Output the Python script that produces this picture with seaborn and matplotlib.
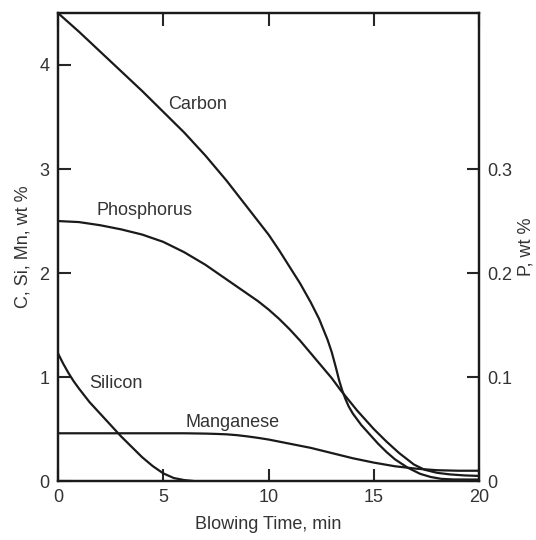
import numpy as np
import pandas as pd
import matplotlib
matplotlib.use("Agg")
import matplotlib.pyplot as plt
import seaborn as sns

# --- values ---
carbon_t = [0, 1, 2, 3, 4, 5, 6, 7, 8, 9, 10, 10.5, 11, 11.5, 12, 12.4, 12.8,
            13.0, 13.2, 13.35, 13.5, 13.65, 13.8, 14.0, 14.4, 14.8, 15.2, 15.6,
            16.0, 16.6, 17.2, 17.7, 18.2, 18.8, 20]
carbon = [4.50, 4.32, 4.13, 3.94, 3.75, 3.55, 3.35, 3.13, 2.89, 2.63, 2.37, 2.22,
          2.06, 1.90, 1.72, 1.56, 1.36, 1.24, 1.09, 0.97, 0.87, 0.79, 0.72, 0.65,
          0.54, 0.45, 0.36, 0.28, 0.21, 0.13, 0.07, 0.04, 0.022, 0.016, 0.015]

phos_t = [0, 1, 2, 3, 4, 5, 6, 7, 8, 9, 9.5, 10, 10.5, 11, 11.5, 12, 12.5, 13,
          13.4, 13.8, 14.2, 14.6, 15.0, 15.6, 16.2, 16.9, 17.4, 18.0, 18.6,
          19.3, 20]
phosphorus = [0.250, 0.249, 0.246, 0.242, 0.237, 0.230, 0.220, 0.208, 0.194,
              0.180, 0.173, 0.165, 0.156, 0.146, 0.135, 0.123, 0.111, 0.099,
              0.088, 0.078, 0.068, 0.059, 0.050, 0.038, 0.027, 0.016, 0.011,
              0.008, 0.0065, 0.0055, 0.005]

mn_t = [0, 2, 4, 6, 7, 7.5, 8, 8.5, 9, 9.5, 10, 10.5, 11, 11.5, 12, 13, 14, 15,
        16, 17, 18, 19, 20]
manganese = [0.46, 0.46, 0.46, 0.46, 0.457, 0.454, 0.45, 0.442, 0.43, 0.416,
             0.40, 0.38, 0.36, 0.34, 0.32, 0.27, 0.22, 0.178, 0.143, 0.12,
             0.105, 0.10, 0.10]

si_t = [0, 0.25, 0.5, 0.75, 1, 1.5, 2, 2.5, 3, 3.5, 4, 4.5, 5, 5.5, 6, 6.5]
silicon = [1.23, 1.13, 1.04, 0.96, 0.89, 0.76, 0.65, 0.54, 0.43, 0.33, 0.23,
           0.145, 0.075, 0.03, 0.01, 0.0]

x_ticks = [5, 10, 15]
left_ticks = [0, 1, 2, 3, 4]
right_ticks = [0, 0.1, 0.2, 0.3]

sns.set_style("ticks")
plt.rcParams["font.family"] = ["Liberation Sans", "DejaVu Sans"]

fig = plt.figure(figsize=(5.36, 5.40), dpi=100)
ax = fig.add_axes([0.108, 0.109, 0.786, 0.867])
ax2 = ax.twinx()

line_kw = dict(color="#1a1a1a", linewidth=1.6, sort=False)
sns.lineplot(x=carbon_t, y=carbon, ax=ax, **line_kw)
sns.lineplot(x=mn_t, y=manganese, ax=ax, **line_kw)
sns.lineplot(x=si_t, y=silicon, ax=ax, **line_kw)
sns.lineplot(x=phos_t, y=phosphorus, ax=ax2, **line_kw)

ax.set_xlim(0, 20)
ax.set_ylim(0, 4.5)
ax2.set_ylim(0, 0.45)

txt = "#333333"
ax.set_xticks([0] + x_ticks + [20])
ax.set_yticks(left_ticks)
ax2.set_yticks(right_ticks)
ax2.set_yticklabels(["0", "0.1", "0.2", "0.3"])

ax.tick_params(axis="both", direction="in", length=9, width=1.5, labelsize=13,
               labelcolor=txt, pad=6, top=True)
ax2.tick_params(axis="y", direction="in", length=9, width=1.5, labelsize=13,
                labelcolor=txt, pad=6)
for a in (ax, ax2):
    for s in a.spines.values():
        s.set_linewidth(1.6)
        s.set_color("#1a1a1a")
        s.set_visible(True)

ax.set_xlabel("Blowing Time, min", fontsize=13, color=txt, labelpad=7)
ax.set_ylabel("C, Si, Mn, wt %", fontsize=13, color=txt)
ax.yaxis.set_label_coords(-0.062, 0.5)
ax2.set_ylabel("P, wt %", fontsize=13, color=txt, rotation=90)
ax2.yaxis.set_label_coords(1.092, 0.5)

lab_kw = dict(fontsize=13, color=txt, ha="center", va="center")
ax.text(6.65, 3.62, "Carbon", **lab_kw)
ax.text(4.13, 2.6, "Phosphorus", **lab_kw)
ax.text(2.76, 0.935, "Silicon", **lab_kw)
ax.text(8.3, 0.56, "Manganese", **lab_kw)

fig.savefig("out.png", dpi=100)
